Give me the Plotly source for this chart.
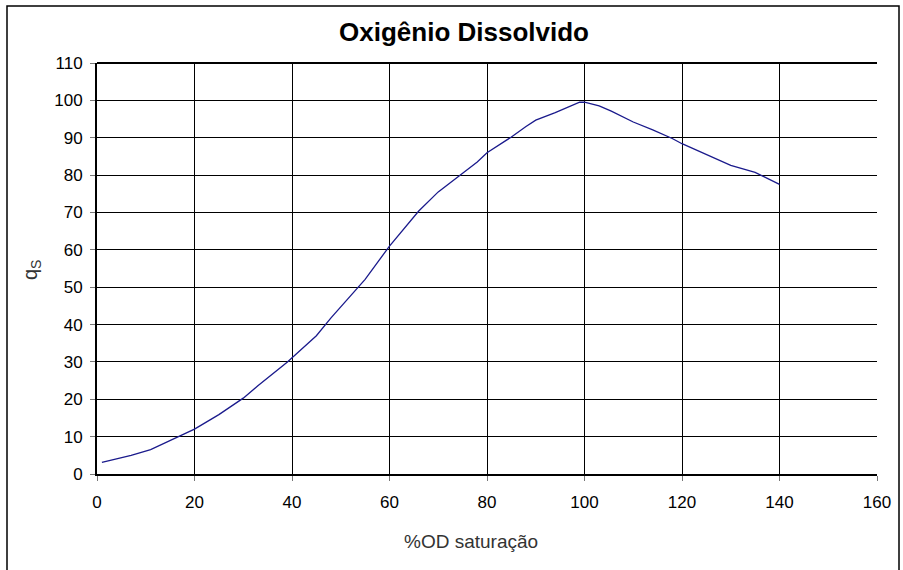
import plotly.graph_objects as go

# Data
od_saturacao = [1, 7, 11, 17, 20, 25, 30, 33, 39, 45, 48, 55, 60, 66, 70, 75, 78, 80,
                85, 88, 90, 94, 99, 100, 103, 105.5, 110, 114, 118, 120, 125, 130, 135, 140]
qs = [3.1, 5.0, 6.5, 10.1, 12.0, 15.9, 20.3, 23.6, 29.9, 37.0, 41.8, 52.1, 61.0, 70.4, 75.5,
      80.5, 83.5, 86.0, 90.2, 93.0, 94.7, 96.7, 99.5, 99.5, 98.5, 97.1, 94.2, 92.1, 89.8,
      88.4, 85.6, 82.6, 80.7, 77.5]

x_ticks = [0, 20, 40, 60, 80, 100, 120, 140, 160]
y_ticks = [0, 10, 20, 30, 40, 50, 60, 70, 80, 90, 100, 110]

title_text = "Oxigênio Dissolvido"
x_title = "%OD saturação"
y_title = "q<sub>S</sub>"

FONT = "Liberation Sans, Arial, sans-serif"

fig = go.Figure()
fig.add_trace(go.Scatter(
    x=od_saturacao, y=qs, mode="lines",
    line=dict(color="#1a1a8c", width=1.3),
    showlegend=False, hoverinfo="x+y",
))

W, H = 903, 570
L, R, T, B = 97, 26, 63, 96
pw, ph = W - L - R, H - T - B

def px_to_paper_x(px):
    return (px - L) / pw

def px_to_paper_y(py):
    return (H - B - py) / ph

fig.update_layout(
    width=W, height=H,
    margin=dict(l=L, r=R, t=T, b=B),
    paper_bgcolor="white", plot_bgcolor="white",
    font=dict(family=FONT, color="black", size=17),
    title=dict(text="<b>" + title_text + "</b>", font=dict(size=26, family=FONT, color="black"),
               x=px_to_paper_x(464), xref="paper", xanchor="center",
               y=1 - 32 / H, yref="container", yanchor="middle"),
    xaxis=dict(range=[0, 160], tickvals=x_ticks, ticktext=[str(v) for v in x_ticks],
               showgrid=True, gridcolor="black", gridwidth=1,
               showline=True, linecolor="black", linewidth=2,
               ticks="outside", ticklen=5, tickcolor="#777", tickwidth=1,
               ticklabelstandoff=7,
               zeroline=False, tickfont=dict(size=17)),
    yaxis=dict(range=[0, 110], tickvals=y_ticks, ticktext=[str(v) for v in y_ticks],
               showgrid=True, gridcolor="black", gridwidth=1,
               showline=True, linecolor="black", linewidth=2,
               ticks="outside", ticklen=5, tickcolor="#777", tickwidth=1,
               ticklabelstandoff=4,
               zeroline=False, tickfont=dict(size=17)),
    annotations=[
        dict(text=x_title, xref="paper", yref="paper",
             x=px_to_paper_x(471), y=px_to_paper_y(541), xanchor="center", yanchor="middle",
             showarrow=False, font=dict(size=19, color="#333", family=FONT)),
        dict(text=y_title, xref="paper", yref="paper",
             x=px_to_paper_x(31), y=px_to_paper_y(270), xanchor="center", yanchor="middle",
             textangle=-90, showarrow=False, font=dict(size=20, color="#333", family=FONT)),
    ],
    shapes=[
        # outer chart frame
        dict(type="rect", xref="paper", yref="paper",
             x0=px_to_paper_x(7), x1=px_to_paper_x(899),
             y0=px_to_paper_y(580), y1=px_to_paper_y(6),
             line=dict(color="black", width=1.5), layer="below"),
        # top border of plot area
        dict(type="line", xref="paper", yref="paper", x0=0, x1=1, y0=1, y1=1,
             line=dict(color="black", width=2)),
    ],
)

fig.write_html("out.html", config={"displayModeBar": False},
               post_script="document.body.style.margin='0';document.body.style.overflow='hidden';")
